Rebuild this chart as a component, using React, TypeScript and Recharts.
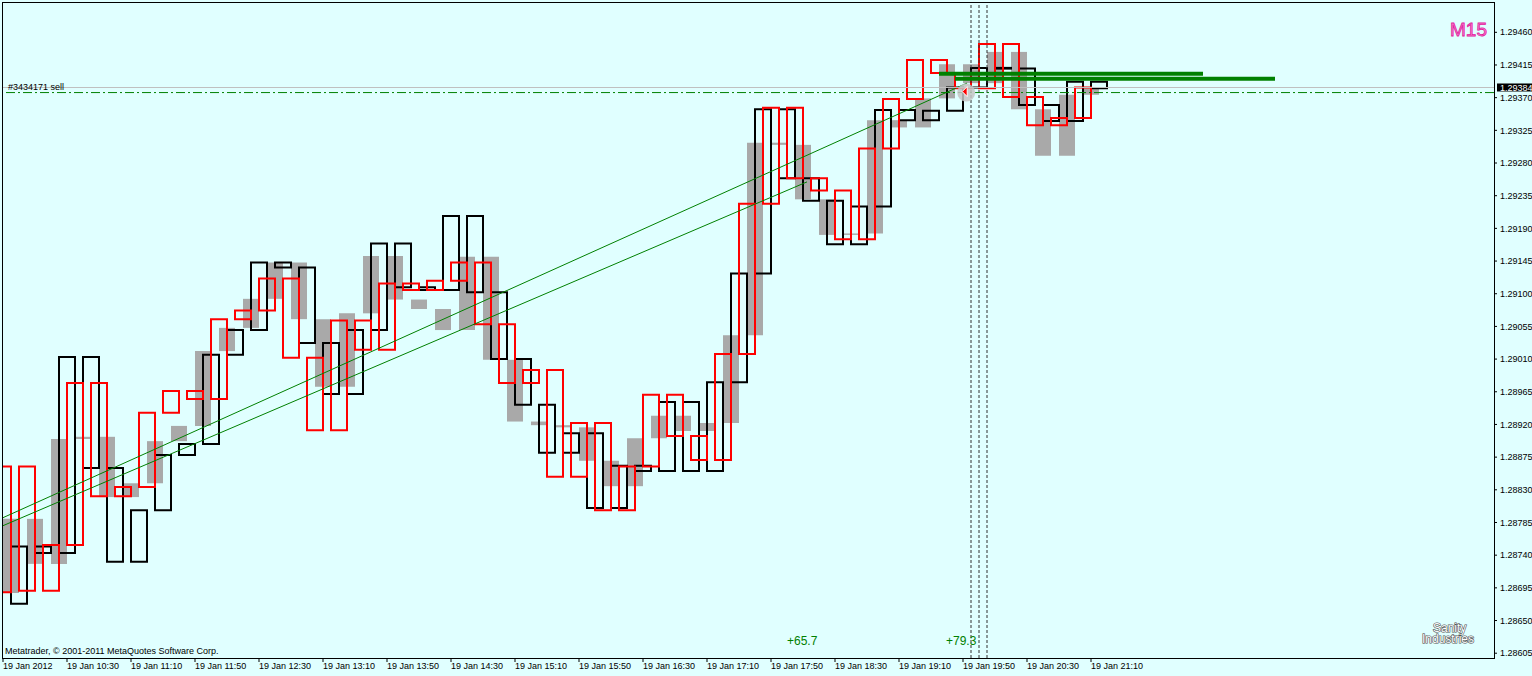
import React from 'react'
import {
  ComposedChart,
  Line,
  XAxis,
  YAxis,
  ReferenceArea,
  ReferenceLine,
  ReferenceDot,
} from 'recharts'

// time axis in minutes from 19 Jan 09:50 (M5 chart, 8px per bar)
const xTicks = [0, 40, 80, 120, 160, 200, 240, 280, 320, 360, 400, 440, 480, 520, 560, 600, 640, 680]
const xTickLabels = [
  '19 Jan 2012', '19 Jan 10:30', '19 Jan 11:10', '19 Jan 11:50', '19 Jan 12:30', '19 Jan 13:10',
  '19 Jan 13:50', '19 Jan 14:30', '19 Jan 15:10', '19 Jan 15:50', '19 Jan 16:30', '19 Jan 17:10',
  '19 Jan 17:50', '19 Jan 18:30', '19 Jan 19:10', '19 Jan 19:50', '19 Jan 20:30', '19 Jan 21:10',
]
const yTicks = [
  1.28605, 1.2865, 1.28695, 1.2874, 1.28785, 1.2883, 1.28875, 1.2892, 1.28965, 1.2901,
  1.29055, 1.291, 1.29145, 1.2919, 1.29235, 1.2928, 1.29325, 1.2937, 1.29415, 1.2946,
]

// three M15 body feeds, each shifted by one M5 bar
const grayStart = 0
const blackStart = 5
const redStart = -5

const grayOpen = [
  1.28688, 1.2879, 1.28728, 1.289, 1.28903, 1.2882, 1.28839, 1.28897, 1.28918, 1.29021,
  1.29053, 1.29093, 1.29143, 1.29065, 1.28972, 1.29073, 1.29152, 1.29092, 1.29079, 1.2905,
  1.29151, 1.29009, 1.28924, 1.28919, 1.28916, 1.2887, 1.28835, 1.28901, 1.28932, 1.28911,
  1.28922, 1.29043, 1.29308, 1.29305, 1.2923, 1.29181, 1.29183, 1.29339, 1.29329, 1.29369,
  1.29416, 1.2939, 1.29433, 1.29354, 1.2929, 1.29374,
]
const grayClose = [
  1.2879, 1.28728, 1.289, 1.28903, 1.2882, 1.28839, 1.28897, 1.28918, 1.29021, 1.29053,
  1.29093, 1.29143, 1.29065, 1.28972, 1.29073, 1.29152, 1.29092, 1.29079, 1.2905, 1.29151,
  1.29009, 1.28924, 1.28919, 1.28916, 1.2887, 1.28835, 1.28901, 1.28932, 1.28911, 1.28922,
  1.29043, 1.29308, 1.29305, 1.2923, 1.29181, 1.29183, 1.29339, 1.29329, 1.29369, 1.29416,
  1.2939, 1.29433, 1.29354, 1.2929, 1.29374, 1.29383,
]

const blackOpen = [
  1.28673, 1.28752, 1.28743, 1.29013, 1.2886, 1.28731, 1.28802, 1.28878, 1.28893, 1.29016,
  1.2905, 1.29143, 1.29136, 1.29032, 1.28962, 1.2905, 1.29169, 1.29109, 1.29105, 1.29207,
  1.29102, 1.2901, 1.28947, 1.28881, 1.28908, 1.28805, 1.28863, 1.28856, 1.28951, 1.28856,
  1.28978, 1.29128, 1.29354, 1.29259, 1.29228, 1.29168, 1.2922, 1.29353, 1.29339, 1.29352,
  1.29384, 1.29411, 1.2941, 1.2936, 1.29338, 1.29392,
]
const blackClose = [
  1.28752, 1.28743, 1.29013, 1.2886, 1.28731, 1.28802, 1.28878, 1.28893, 1.29016, 1.2905,
  1.29143, 1.29136, 1.29032, 1.28962, 1.2905, 1.29169, 1.29109, 1.29105, 1.29207, 1.29102,
  1.2901, 1.28947, 1.28881, 1.28908, 1.28805, 1.28863, 1.28856, 1.28951, 1.28856, 1.28978,
  1.29128, 1.29354, 1.29259, 1.29228, 1.29168, 1.2922, 1.29353, 1.29339, 1.29352, 1.29384,
  1.29411, 1.2941, 1.2936, 1.29338, 1.29392, 1.29383,
]

const redOpen = [
  1.28689, 1.28862, 1.28691, 1.28754, 1.28977, 1.28821, 1.28834, 1.28936, 1.28966, 1.28955,
  1.29065, 1.29077, 1.29121, 1.29012, 1.28912, 1.29063, 1.29023, 1.29114, 1.29105, 1.29118,
  1.29143, 1.29058, 1.28977, 1.28995, 1.28848, 1.28922, 1.28802, 1.28862, 1.28961, 1.28904,
  1.28871, 1.29017, 1.29224, 1.29356, 1.29259, 1.29242, 1.29175, 1.293, 1.29368, 1.29422,
  1.29404, 1.29383, 1.29444, 1.29371, 1.29332, 1.29342,
]
const redClose = [
  1.28862, 1.28691, 1.28754, 1.28977, 1.28821, 1.28834, 1.28936, 1.28966, 1.28955, 1.29065,
  1.29077, 1.29121, 1.29012, 1.28912, 1.29063, 1.29023, 1.29114, 1.29105, 1.29118, 1.29143,
  1.29058, 1.28977, 1.28995, 1.28848, 1.28922, 1.28802, 1.28862, 1.28961, 1.28904, 1.28871,
  1.29017, 1.29224, 1.29356, 1.29259, 1.29242, 1.29175, 1.293, 1.29368, 1.29422, 1.29404,
  1.29383, 1.29444, 1.29371, 1.29332, 1.29342, 1.29384,
]

const bidPrice = 1.29384
const orderPrice = 1.29377
const orderLabel = '#3434171 sell'
const orderTime = 602
const closeMarks = [605, 610, 615]
const trendUpper = [{ t: -0.625, p: 1.28791 }, { t: 602.5, p: 1.2939 }]
const trendLower = [{ t: -0.625, p: 1.2878 }, { t: 502.5, p: 1.29254 }]
const levelA = [{ t: 585, p: 1.29403 }, { t: 750, p: 1.29403 }]
const levelB = [{ t: 595, p: 1.29396 }, { t: 795, p: 1.29396 }]
const profitLabels = ['+65.7', '+79.3']

const STEP = 15
const SPAN = 10

const boxes = (start: number, open: number[], close: number[]) =>
  open.map((o, i) => ({
    x1: start + i * STEP,
    x2: start + i * STEP + SPAN,
    lo: Math.min(o, close[i]),
    hi: Math.max(o, close[i]),
  }))

const anchorData = grayClose.map((p, i) => ({ t: grayStart + i * STEP + SPAN, p }))

const XTick = (props: any) => {
  const { x, y, payload } = props
  const i = xTicks.indexOf(payload.value)
  return (
    <text x={x} y={y + 4.5} fontSize={9} fill="#000">
      {xTickLabels[i]}
    </text>
  )
}

const BidTag = (props: any) => {
  const { viewBox } = props
  const x = viewBox.x + viewBox.width + 3
  const y = viewBox.y
  return (
    <g>
      <rect x={x} y={y - 4} width={40} height={8} fill="#000" />
      <text x={x + 3} y={y + 3.5} fill="#fff" fontSize={9}>
        {bidPrice.toFixed(5)}
      </text>
    </g>
  )
}

const TradeArrow = (props: any) => {
  const { cx, cy } = props
  return (
    <g>
      <circle cx={cx} cy={cy} r={9} fill="#c4c4c4" opacity={0.85} />
      <polygon
        points={`${cx - 4},${cy - 1} ${cx + 1},${cy - 6} ${cx + 1},${cy + 4}`}
        fill="#ff0000"
        stroke="#ffffff"
        strokeWidth={1}
      />
    </g>
  )
}

export default function App() {
  return (
    <div
      style={{
        position: 'absolute',
        left: 0,
        top: 0,
        width: 1532,
        height: 676,
        background: '#e0ffff',
        fontFamily: '"Liberation Sans", Arial, sans-serif',
      }}
    >
      <ComposedChart width={1532} height={676} data={anchorData} margin={{ top: 2, right: 0, bottom: 0, left: 2 }}>
        <XAxis
          type="number"
          dataKey="t"
          domain={[-0.625, 931.875]}
          ticks={xTicks}
          interval={0}
          allowDataOverflow
          axisLine={false}
          tickLine={{ stroke: '#000' }}
          tickSize={4}
          tickMargin={2}
          height={18}
          tick={<XTick />}
        />
        <YAxis
          orientation="right"
          type="number"
          domain={[1.285984, 1.2950172]}
          ticks={yTicks}
          interval={0}
          allowDataOverflow
          width={38}
          axisLine={false}
          tickLine={{ stroke: '#000' }}
          tickSize={3}
          tickMargin={3}
          tick={{ fontSize: 9, fill: '#000' }}
          tickFormatter={(v: number) => v.toFixed(5)}
        />

        {boxes(grayStart, grayOpen, grayClose).map((b, i) => (
          <ReferenceArea
            key={'g' + i}
            x1={b.x1}
            x2={b.x2}
            y1={b.lo}
            y2={b.hi}
            fill="#a9a9a9"
            fillOpacity={1}
            stroke="none"
            ifOverflow="hidden"
          />
        ))}
        {boxes(blackStart, blackOpen, blackClose).map((b, i) => (
          <ReferenceArea
            key={'b' + i}
            x1={b.x1}
            x2={b.x2}
            y1={b.lo}
            y2={b.hi}
            fill="none"
            stroke="#000000"
            strokeWidth={2}
            ifOverflow="hidden"
          />
        ))}
        {boxes(redStart, redOpen, redClose).map((b, i) => (
          <ReferenceArea
            key={'r' + i}
            x1={b.x1}
            x2={b.x2}
            y1={b.lo}
            y2={b.hi}
            fill="none"
            stroke="#ff0000"
            strokeWidth={2}
            ifOverflow="hidden"
          />
        ))}

        {/* trend channel */}
        <ReferenceLine
          segment={trendUpper.map((d) => ({ x: d.t, y: d.p }))}
          stroke="#008000"
          strokeWidth={1}
          ifOverflow="hidden"
        />
        <ReferenceLine
          segment={trendLower.map((d) => ({ x: d.t, y: d.p }))}
          stroke="#008000"
          strokeWidth={1}
          ifOverflow="hidden"
        />

        {closeMarks.map((t) => (
          <ReferenceLine key={t} x={t} stroke="#303030" strokeDasharray="3 2" />
        ))}

        <ReferenceLine y={bidPrice} stroke="#c0c0c0" label={<BidTag />} />
        <ReferenceLine y={orderPrice} stroke="#008000" strokeDasharray="9 3 2 3" />

        <ReferenceLine
          segment={levelA.map((d) => ({ x: d.t, y: d.p }))}
          stroke="#008000"
          strokeWidth={4}
        />
        <ReferenceLine
          segment={levelB.map((d) => ({ x: d.t, y: d.p }))}
          stroke="#008000"
          strokeWidth={4}
        />

        <ReferenceDot x={orderTime} y={orderPrice} r={9} shape={<TradeArrow />} />

        <Line
          dataKey="p"
          stroke="none"
          dot={false}
          activeDot={false}
          isAnimationActive={false}
        />
      </ComposedChart>

      <svg
        width={1532}
        height={676}
        style={{ position: 'absolute', left: 0, top: 0, pointerEvents: 'none' }}
      >
        <rect x={2.5} y={2.5} width={1492} height={656} fill="none" stroke="#000" />
        <text x={8} y={89.5} fontSize={9} fill="#000">
          {orderLabel}
        </text>
        <text x={5} y={654} fontSize={9} fill="#000">
          Metatrader, © 2001-2011 MetaQuotes Software Corp.
        </text>
        <text x={787} y={645} fontSize={12} fill="#008000">
          {profitLabels[0]}
        </text>
        <text x={946} y={645} fontSize={12} fill="#008000">
          {profitLabels[1]}
        </text>
        <text
          x={1450}
          y={36}
          fontSize={19}
          fill="#ff88d8"
          stroke="#e0209a"
          strokeWidth={0.8}
        >
          M15
        </text>
        <text
          x={1433}
          y={632}
          fontSize={12}
          fill="#ffffff"
          stroke="#505050"
          strokeWidth={1.2}
          paintOrder="stroke"
        >
          Sanity
        </text>
        <text
          x={1422}
          y={643}
          fontSize={12}
          fill="#ffffff"
          stroke="#505050"
          strokeWidth={1.2}
          paintOrder="stroke"
        >
          Industries
        </text>
      </svg>
    </div>
  )
}
